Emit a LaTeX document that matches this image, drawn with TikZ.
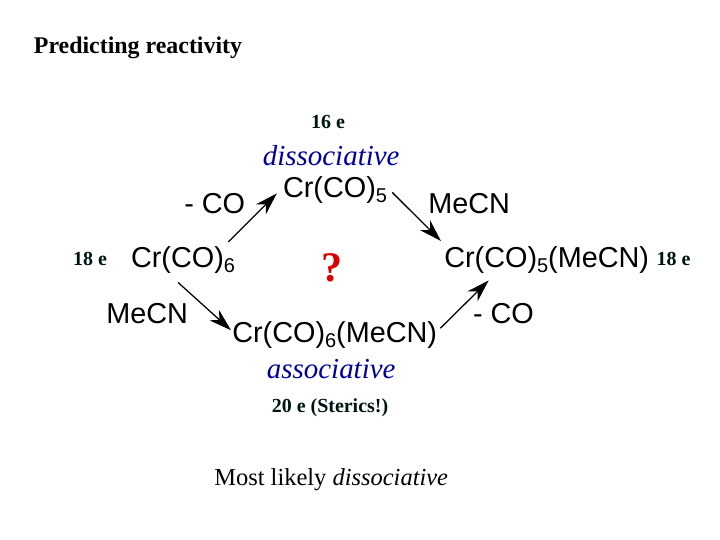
\documentclass[tikz,border=0pt]{standalone}
\usepackage{fontspec}
\setmainfont{Liberation Serif}
\setsansfont{Liberation Sans}
\usetikzlibrary{arrows.meta}
\newcommand{\chemsub}[1]{\raisebox{-3.6pt}{\fontsize{14.2}{16}\selectfont #1}}
\tikzset{
  chem/.style={font=\sffamily\fontsize{20.5}{24}\selectfont,inner sep=0pt,anchor=base west},
  note/.style={font=\bfseries\fontsize{14.2}{17}\selectfont,text=black!85!teal,inner sep=0pt},
  mech/.style={font=\itshape\fontsize{20.6}{24}\selectfont,text=blue!62!black,inner sep=0pt},
  rxn/.style={-{Stealth[length=16pt,width=10pt,inset=5pt]},line width=0.9pt}
}
\begin{document}
\begin{tikzpicture}
\useasboundingbox (0,0) rectangle (18,13.5);

\node[font=\bfseries\fontsize{17}{20}\selectfont,inner sep=0pt] (title) at (3.45,12.3) {Predicting reactivity};

\node[note] (e16) at (8.2,10.45) {16 e};
\node[mech] (diss) at (8.28,9.62) {dissociative};
\node[chem] (crfive) at (7.07,8.57) {Cr(CO)\chemsub{5}};
\node[chem] (crsix) at (3.27,6.82) {Cr(CO)\chemsub{6}};
\node[chem] (product) at (11.1,6.82) {Cr(CO)\chemsub{5}(MeCN)};
\node[chem] (adduct) at (5.8,4.94) {Cr(CO)\chemsub{6}(MeCN)};
\node[mech] (assoc) at (8.28,4.28) {associative};

\node[chem] (lossa) at (4.6,8.17) {- CO};
\node[chem] (gaina) at (10.7,8.17) {MeCN};
\node[chem] (gainb) at (2.65,5.42) {MeCN};
\node[chem] (lossb) at (11.82,5.42) {- CO};

\node[note] (left) at (2.25,7.03) {18 e};
\node[note] (right) at (16.84,7.03) {18 e};
\node[font=\bfseries\fontsize{30}{32}\selectfont,text=red!85!black,inner sep=0pt] (what) at (8.3,6.8) {?};
\node[note] (e20) at (8.25,3.3) {20 e (Sterics!)};
\node[font=\fontsize{17.4}{20}\selectfont,inner sep=0pt] (verdict) at (8.28,1.52) {Most likely \textit{dissociative}};

\draw[rxn] ([shift={(-0.175,0.1)}]crsix.north east) -- ([shift={(-0.15,0.25)}]crfive.south west);
\draw[rxn] ([shift={(0.125,0.275)}]crfive.south east) -- ([shift={(-0.075,0.125)}]product.north west);
\draw[rxn] ([shift={(-0.125,-0.225)}]crsix.south) -- ([shift={(-0.025,-0.225)}]adduct.north west);
\draw[rxn] ([shift={(0.075,-0.175)}]adduct.north east) -- ([shift={(-1.45,-0.175)}]product.south);
\end{tikzpicture}
\end{document}
